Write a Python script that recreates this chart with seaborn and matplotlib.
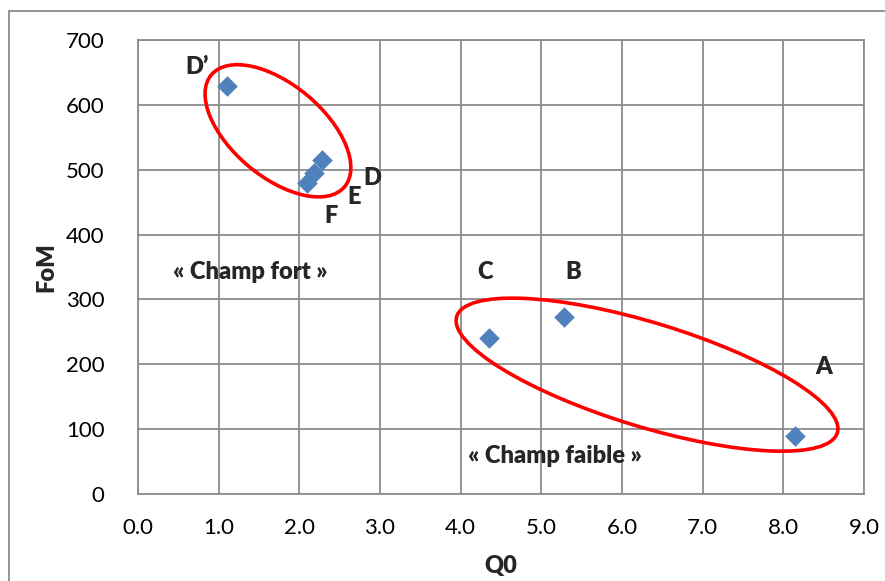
import matplotlib
matplotlib.use("Agg")
import matplotlib.pyplot as plt
import matplotlib.transforms as mtransforms
from matplotlib.patches import Ellipse
from matplotlib.lines import Line2D
import pandas as pd
import seaborn as sns

# points (Q0, FoM)
labels = ["D'", "D", "E", "F", "C", "B", "A"]
q0 = [1.10, 2.28, 2.18, 2.10, 4.35, 5.28, 8.15]
fom = [629, 515, 495, 479, 241, 273, 89]

# label positions
lab_x = [0.73, 2.90, 2.68, 2.39, 4.30, 5.40, 8.50]
lab_y = [658, 487, 458, 429, 342, 342, 196]

x_ticks = [0, 1, 2, 3, 4, 5, 6, 7, 8, 9]
y_ticks = [0, 100, 200, 300, 400, 500, 600, 700]

df = pd.DataFrame({"Q0": q0, "FoM": fom, "label": labels})

sns.set_style("white")
plt.rcParams["font.family"] = ["Lato", "DejaVu Sans"]

fig = plt.figure(figsize=(8.85, 5.81), dpi=100)
ax = fig.add_axes([138 / 885, 1 - 494 / 581, (864 - 138) / 885, (494 - 40) / 581])

grid_c = "#8c8c8c"
sns.scatterplot(data=df, x="Q0", y="FoM", marker="D", s=110, color="#4f81bd",
                linewidth=0, ax=ax, zorder=3)

ax.set_xlim(0, 9)
ax.set_ylim(0, 700)
ax.set_xticks(x_ticks)
ax.set_xticklabels([f"{v:.1f}" for v in x_ticks])
ax.set_yticks(y_ticks)
ax.grid(True, color=grid_c, linewidth=1.3)
ax.set_axisbelow(True)
for side in ["left", "bottom", "top", "right"]:
    ax.spines[side].set_color(grid_c)
    ax.spines[side].set_linewidth(1.3)
ax.tick_params(axis="both", length=0, labelsize=16, colors="black")
ax.tick_params(axis="x", pad=17)
ax.tick_params(axis="y", pad=24)
ax.set_xlabel("")
ax.set_ylabel("")
bold = "heavy"
ax.text(0.5, (494 - 566) / 454, "Q0", transform=ax.transAxes, fontsize=17,
        fontweight=bold, ha="center", va="center")
ax.text((46 - 138) / 726, 0.5, "FoM", transform=ax.transAxes, fontsize=17,
        fontweight=bold, ha="center", va="center", rotation=90)

for t, lx, ly in zip(labels, lab_x, lab_y):
    ax.text(lx, ly, t.replace("'", "\u2019"), fontsize=17, fontweight=bold,
            ha="center", va="center")
ax.text(1.39, 342, "\u00ab Champ fort \u00bb", fontsize=17, fontweight=bold,
        ha="center", va="center")
ax.text(5.17, 59, "\u00ab Champ faible \u00bb", fontsize=17, fontweight=bold,
        ha="center", va="center")

# ellipses: center in data units, size in inches
for cx, cy, w, h, ang in [(1.735, 560, 1.74, 0.92, -40), (6.31, 184, 3.98, 1.04, -17)]:
    tr = fig.dpi_scale_trans + mtransforms.ScaledTranslation(cx, cy, ax.transData)
    ax.add_patch(Ellipse((0, 0), w, h, angle=ang, transform=tr, fill=False,
                         edgecolor="#ff0000", linewidth=2.6, zorder=4))

# outer chart border (cropped on the right and bottom)
fig.add_artist(Line2D([8.5 / 885, 8.5 / 885], [0, 1 - 11 / 581], color=grid_c, lw=1.3))
fig.add_artist(Line2D([8.5 / 885, 1], [1 - 11 / 581, 1 - 11 / 581], color=grid_c, lw=1.3))

fig.savefig("out.png", dpi=100)
